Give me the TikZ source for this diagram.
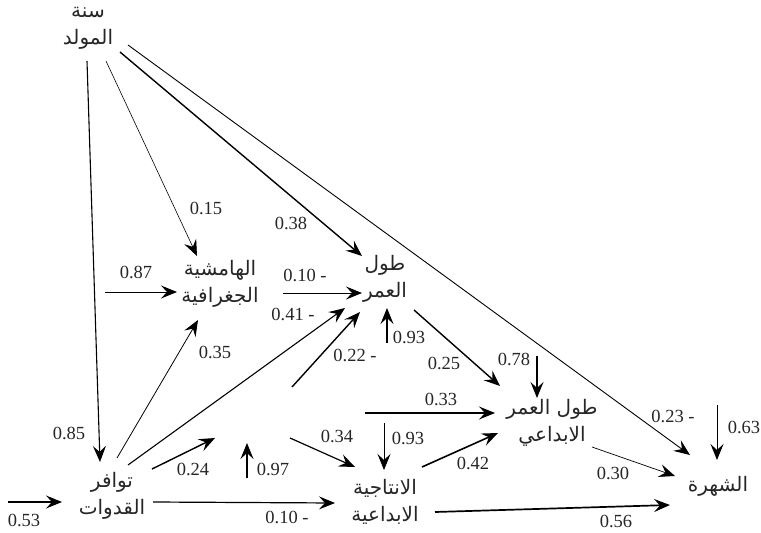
\documentclass[tikz,border=0pt]{standalone}
\usepackage{fontspec}
\setmainfont{Liberation Serif}
\newfontfamily\arabicfont[Script=Arabic]{DejaVu Sans}
\TeXXeTstate=1
\usetikzlibrary{arrows.meta,calc}
\newcommand{\rtl}[1]{\beginR #1\endR}
\begin{document}
\begin{tikzpicture}[x=1pt,y=-1pt,
  lbl/.style={font=\arabicfont\fontsize{20}{27}\selectfont, align=center, inner sep=0pt, text=black!85},
  num/.style={font=\fontsize{18.5}{18.5}\selectfont, inner sep=0pt, text=black!85},
  arr/.style={-{Stealth[length=16pt,width=13pt,inset=6pt]}, line width=#1},
  arr/.default=1pt]
\useasboundingbox (0,0) rectangle (761,533);
% variables
\node[lbl] (by) at (88,28) {\rtl{سنة}\\\rtl{المولد}};
\node[lbl] (gm) at (220,284) {\rtl{الهامشية}\\\rtl{الجغرافية}};
\node[lbl] (lg) at (385,279) {\rtl{طول}\\\rtl{العمر}};
\node[lbl] (cl) at (552,423) {\rtl{طول العمر}\\\rtl{الابداعي}};
\node[lbl] (fm) at (718,486) {\rtl{الشهرة}};
\node[lbl] (pr) at (385,502) {\rtl{الانتاجية}\\\rtl{الابداعية}};
\node[lbl] (rm) at (112,496) {\rtl{توافر}\\\rtl{القدوات}};
% free ends
\coordinate (e5) at (105,292);
\coordinate (e8) at (292,387);
\coordinate (e9) at (387,343);
\coordinate (e11) at (215,438);
\coordinate (e12a) at (247,478);
\coordinate (e12b) at (247,443);
\coordinate (e13) at (290,438);
\coordinate (e15) at (365,413);
\coordinate (e16) at (384,423);
\coordinate (e19) at (537,356);
\coordinate (e21) at (717,405);
\coordinate (e23) at (8,502);
% connectors
\draw[arr=1.1pt] ($(by)+(-1,33)$) -- ($(rm)+(-12,-34)$);
\draw[arr=0.6pt] ($(by)+(18,33)$) -- ($(gm)+(-23,-28)$);
\draw[arr=1.4pt] ($(by)+(32,24)$) -- ($(lg)+(-23,-23)$);
\draw[arr=0.9pt] ($(by)+(40,17)$) -- ($(fm)+(-28,-31)$);
\draw[arr=1pt] (e5) -- ($(gm)+(-43,8)$);
\draw[arr=1pt] ($(gm)+(63,9)$) -- ($(lg)+(-23,14)$);
\draw[arr=1.1pt] ($(rm)+(16,-31)$) -- ($(lg)+(-40,29)$);
\draw[arr=1.4pt] (e8) -- ($(lg)+(-25,33)$);
\draw[arr=1.4pt] (e9) -- ($(lg)+(2,29)$);
\draw[arr=0.8pt] ($(rm)+(5,-38)$) -- ($(gm)+(-22,36)$);
\draw[arr=1.4pt] ($(rm)+(40,-27)$) -- (e11);
\draw[arr=1.4pt] (e12a) -- (e12b);
\draw[arr=1.2pt] (e13) -- ($(pr)+(-30,-35)$);
\draw[arr=1.2pt] ($(rm)+(41,6)$) -- ($(pr)+(-50,1)$);
\draw[arr=1.3pt] (e15) -- ($(cl)+(-57,-10)$);
\draw[arr=1pt] (e16) -- ($(pr)+(-1,-32)$);
\draw[arr=1.6pt] ($(pr)+(37,-35)$) -- ($(cl)+(-54,10)$);
\draw[arr=1.4pt] ($(lg)+(29,31)$) -- ($(cl)+(-52,-37)$);
\draw[arr=1.3pt] (e19) -- ($(cl)+(-15,-25)$);
\draw[arr=0.7pt] ($(cl)+(40,24)$) -- ($(fm)+(-43,-10)$);
\draw[arr=1pt] (e21) -- ($(fm)+(-1,-26)$);
\draw[arr=1.7pt] ($(pr)+(50,10)$) -- ($(fm)+(-48,19)$);
\draw[arr=1.4pt] (e23) -- ($(rm)+(-50,6)$);
% coefficients
\node[num] (n1) at (206,208) {0.15};
\node[num] (n2) at (291,223) {0.38};
\node[num] (n3) at (136,272) {0.87};
\node[num] (n4) at (305,275) {0.10 -};
\node[num] (n5) at (293,314) {0.41 -};
\node[num] (n6) at (215,352) {0.35};
\node[num] (n7) at (409,337) {0.93};
\node[num] (n8) at (355,355) {0.22 -};
\node[num] (n9) at (444,363) {0.25};
\node[num] (n10) at (514,359) {0.78};
\node[num] (n11) at (441,399) {0.33};
\node[num] (n12) at (337,436) {0.34};
\node[num] (n13) at (408,438) {0.93};
\node[num] (n14) at (193,469) {0.24};
\node[num] (n15) at (273,469) {0.97};
\node[num] (n16) at (69,433) {0.85};
\node[num] (n17) at (24,520) {0.53};
\node[num] (n18) at (287,517) {0.10 -};
\node[num] (n19) at (473,463) {0.42};
\node[num] (n20) at (673,416) {0.23 -};
\node[num] (n21) at (744,427) {0.63};
\node[num] (n22) at (613,473) {0.30};
\node[num] (n23) at (616,521) {0.56};
\end{tikzpicture}
\end{document}
